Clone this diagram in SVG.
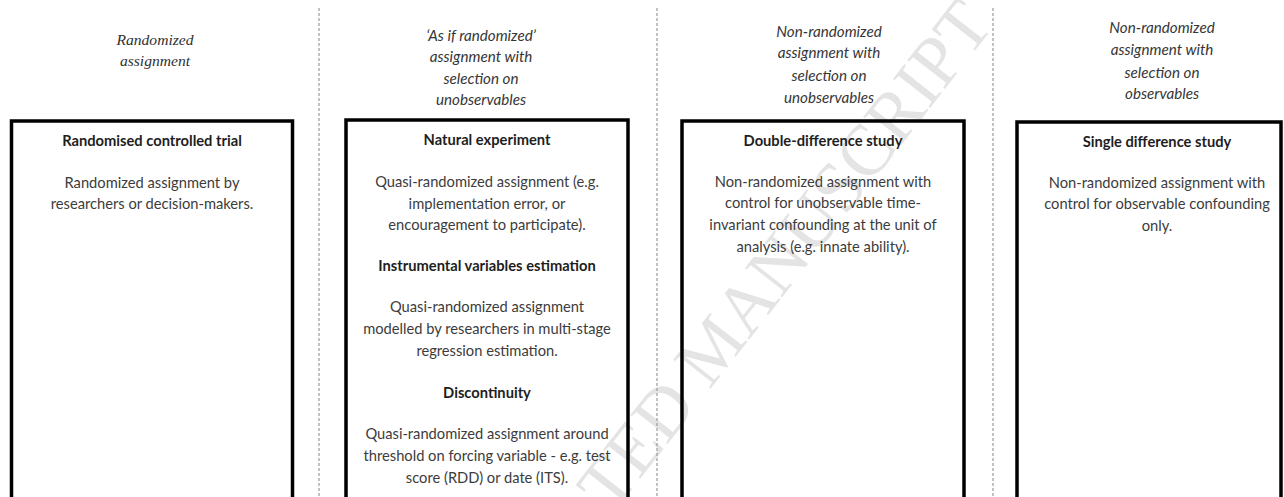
<svg xmlns="http://www.w3.org/2000/svg" width="1284" height="497" viewBox="0 0 1284 497">
  <style>
    .bg { fill: #ffffff; }
    .wm { font-family: "Liberation Serif", serif; font-size: 72px; fill: #e4e4e4; }
    .sep { stroke: #9a9a9a; stroke-width: 1.2; stroke-dasharray: 3 2; fill: none; }
    .box { fill: none; stroke: #000000; stroke-width: 3.5; }
    .hd { font-family: Lato, "Open Sans", sans-serif; font-style: italic; font-size: 15.2px; fill: #363636; text-anchor: middle; }
    .hds { font-family: "Liberation Serif", serif; font-style: italic; font-size: 15.6px; fill: #303030; text-anchor: middle; }
    .tt { font-family: Lato, "Open Sans", sans-serif; font-weight: bold; font-size: 14.7px; fill: #1e1e1e; text-anchor: middle; }
    .bd { font-family: Lato, "Open Sans", sans-serif; font-size: 14.7px; fill: #3c3c3c; text-anchor: middle; }
  </style>
  <rect class="bg" x="0" y="0" width="1284" height="497"/>
  <text class="wm" transform="translate(612 515) rotate(-52)">TED MANUSCRIPT</text>

  <g id="connectors">
    <line class="sep" x1="319" y1="8" x2="319" y2="497"/>
    <line class="sep" x1="657" y1="8" x2="657" y2="497"/>
    <line class="sep" x1="993" y1="8" x2="993" y2="497"/>
  </g>

  <g id="col1">
    <text class="hds" x="155" y="45">Randomized</text>
    <text class="hds" x="155" y="66">assignment</text>
    <rect class="box" x="11.5" y="121" width="281" height="400"/>
    <text class="tt" x="152" y="146">Randomised controlled trial</text>
    <text class="bd" x="152" y="188">Randomized assignment by</text>
    <text class="bd" x="152" y="209">researchers or decision-makers.</text>
  </g>

  <g id="col2">
    <text class="hd" x="481" y="41">‘As if randomized’</text>
    <text class="hd" x="481" y="62">assignment with</text>
    <text class="hd" x="481" y="84">selection on</text>
    <text class="hd" x="481" y="105">unobservables</text>
    <rect class="box" x="346" y="120" width="282" height="400"/>
    <text class="tt" x="487" y="145">Natural experiment</text>
    <text class="bd" x="487" y="187">Quasi-randomized assignment (e.g.</text>
    <text class="bd" x="487" y="209">implementation error, or</text>
    <text class="bd" x="487" y="230">encouragement to participate).</text>
    <text class="tt" x="487" y="271">Instrumental variables estimation</text>
    <text class="bd" x="487" y="312">Quasi-randomized assignment</text>
    <text class="bd" x="487" y="334">modelled by researchers in multi-stage</text>
    <text class="bd" x="487" y="356">regression estimation.</text>
    <text class="tt" x="487" y="398">Discontinuity</text>
    <text class="bd" x="487" y="439">Quasi-randomized assignment around</text>
    <text class="bd" x="487" y="461">threshold on forcing variable - e.g. test</text>
    <text class="bd" x="487" y="483">score (RDD) or date (ITS).</text>
  </g>

  <g id="col3">
    <text class="hd" x="829" y="37">Non-randomized</text>
    <text class="hd" x="829" y="58">assignment with</text>
    <text class="hd" x="829" y="81">selection on</text>
    <text class="hd" x="829" y="103">unobservables</text>
    <rect class="box" x="682" y="121" width="282" height="400"/>
    <text class="tt" x="823" y="146">Double-difference study</text>
    <text class="bd" x="823" y="187">Non-randomized assignment with</text>
    <text class="bd" x="823" y="208">control for unobservable time-</text>
    <text class="bd" x="823" y="230">invariant confounding at the unit of</text>
    <text class="bd" x="823" y="252">analysis (e.g. innate ability).</text>
  </g>

  <g id="col4">
    <text class="hd" x="1162" y="33">Non-randomized</text>
    <text class="hd" x="1162" y="55">assignment with</text>
    <text class="hd" x="1162" y="78">selection on</text>
    <text class="hd" x="1162" y="99">observables</text>
    <rect class="box" x="1017" y="122" width="264" height="400"/>
    <text class="tt" x="1157" y="147">Single difference study</text>
    <text class="bd" x="1157" y="188">Non-randomized assignment with</text>
    <text class="bd" x="1157" y="209">control for observable confounding</text>
    <text class="bd" x="1157" y="231">only.</text>
  </g>
</svg>
